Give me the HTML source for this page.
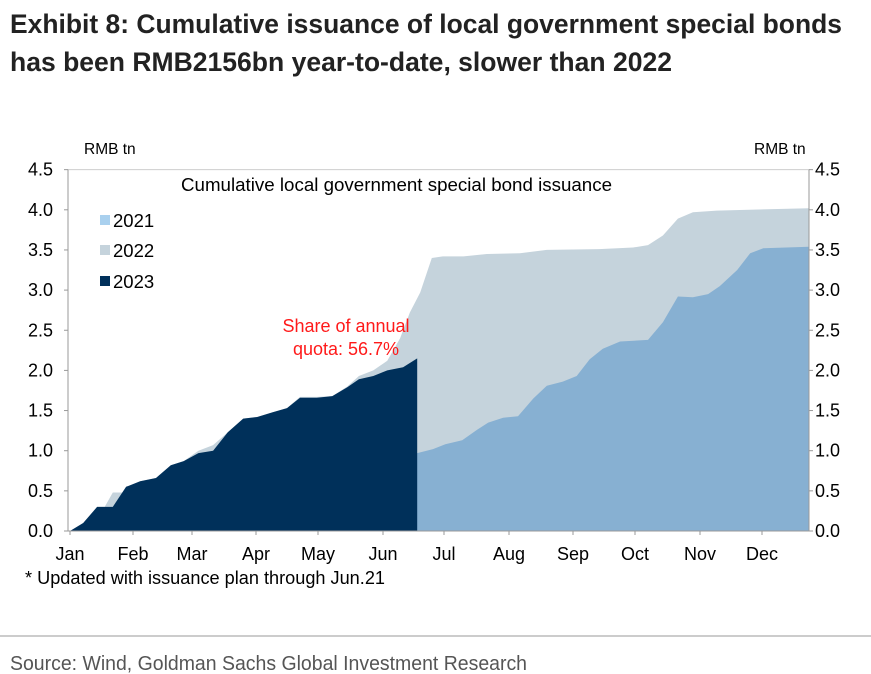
<!DOCTYPE html>
<html><head><meta charset="utf-8"><style>
html,body{margin:0;padding:0;background:#fff;}
svg{display:block;font-family:"Liberation Sans",Arial,sans-serif;}
</style></head><body>
<svg id="c" width="871" height="674" viewBox="0 0 871 674">
<text x="10" y="33" font-size="27" font-weight="bold" fill="#222" textLength="832" lengthAdjust="spacingAndGlyphs">Exhibit 8: Cumulative issuance of local government special bonds</text>
<text x="10" y="71" font-size="27" font-weight="bold" fill="#222" textLength="662" lengthAdjust="spacingAndGlyphs">has been RMB2156bn year-to-date, slower than 2022</text>
<g id="plot"></g>
<text x="84" y="154" font-size="15.5" fill="#000">RMB tn</text>
<text x="754" y="154" font-size="15.5" fill="#000">RMB tn</text>
<text x="181" y="191" font-size="18" fill="#000" textLength="431" lengthAdjust="spacingAndGlyphs">Cumulative local government special bond issuance</text>
<rect x="100" y="215" width="10" height="10" fill="#A9D0EE"/>
<text x="113" y="227" font-size="18.5">2021</text>
<rect x="100" y="245" width="10" height="10" fill="#C5D3DC"/>
<text x="113" y="257" font-size="18.5">2022</text>
<rect x="100" y="276" width="10" height="10" fill="#00305A"/>
<text x="113" y="288" font-size="18.5">2023</text>
<text x="346" y="332" font-size="18" fill="#FF1A1A" text-anchor="middle">Share of annual</text>
<text x="346" y="355" font-size="18" fill="#FF1A1A" text-anchor="middle">quota: 56.7%</text>
<text x="25" y="584" font-size="18" fill="#000" textLength="360" lengthAdjust="spacingAndGlyphs">* Updated with issuance plan through Jun.21</text>
<line x1="0" y1="636" x2="871" y2="636" stroke="#999" stroke-width="1"/>
<text x="10" y="670" font-size="20" fill="#555" textLength="517" lengthAdjust="spacingAndGlyphs">Source: Wind, Goldman Sachs Global Investment Research</text>
</svg>
<script>
const months=["Jan","Feb","Mar","Apr","May","Jun","Jul","Aug","Sep","Oct","Nov","Dec"];
const yTicks=[0,0.5,1,1.5,2,2.5,3,3.5,4,4.5];
const t2022=[0,0.21,0.43,0.55,0.68,0.85,1.12,1.39,1.64,1.86,2.1,2.33,2.56,2.8,3.02,3.27,3.5,3.71,3.98,4.22,4.45,4.63,4.85,5.07,5.28,5.44,5.61,5.8,5.98,6.3,6.66,7.17,7.59,8.42,8.97,9.2,9.43,9.66,9.89,10.27,11.76];
const v2022=[0,0.1,0.3,0.3,0.48,0.48,0.62,0.66,0.82,0.87,1.0,1.07,1.23,1.4,1.42,1.48,1.53,1.67,1.67,1.68,1.8,1.93,2.0,2.12,2.4,2.72,2.97,3.4,3.42,3.42,3.45,3.46,3.5,3.51,3.53,3.56,3.68,3.89,3.97,3.99,4.02];
const t2021=[0,2,4,5.2,5.56,5.82,6.02,6.28,6.51,6.68,6.91,7.14,7.38,7.59,7.84,8.06,8.27,8.48,8.76,9.2,9.43,9.66,9.89,10.13,10.32,10.6,10.81,11.02,11.76];
const v2021=[0,0.2,0.5,0.9,0.97,1.02,1.08,1.13,1.26,1.35,1.41,1.43,1.65,1.81,1.86,1.93,2.14,2.27,2.36,2.38,2.6,2.92,2.91,2.95,3.05,3.25,3.46,3.52,3.54];
const t2023=[0,0.21,0.43,0.68,0.89,1.12,1.39,1.64,1.86,2.1,2.33,2.56,2.8,3.02,3.27,3.5,3.71,3.98,4.22,4.45,4.63,4.85,5.07,5.33,5.56];
const v2023=[0,0.1,0.3,0.3,0.55,0.62,0.66,0.82,0.87,0.97,1.0,1.23,1.4,1.42,1.48,1.53,1.66,1.66,1.68,1.79,1.89,1.93,2.0,2.04,2.15];

const NS="http://www.w3.org/2000/svg";
const g=document.getElementById('plot');
const tickPx=[70,133,192,256,318,383,444,509,573,635,700,762,824];
const X0=68,X1=809,Y0=531,PPU=80.3;
function xs(m){const i=Math.min(Math.floor(m),11);return tickPx[i]+(m-i)*(tickPx[i+1]-tickPx[i]);}
function ys(v){return Y0-v*PPU;}
function mk(tag,attrs){const e=document.createElementNS(NS,tag);for(const k in attrs)e.setAttribute(k,attrs[k]);g.appendChild(e);return e;}
function area(ts,vs,fill,name){
  let d='M'+xs(ts[0])+','+Y0;
  for(let i=0;i<ts.length;i++)d+=' L'+xs(ts[i]).toFixed(1)+','+ys(vs[i]).toFixed(1);
  d+=' L'+xs(ts[ts.length-1]).toFixed(1)+','+Y0+' Z';
  const p=mk('path',{d:d,fill:fill});
  
  
}
const fr=mk('rect',{x:X0,y:ys(4.5),width:X1-X0,height:Y0-ys(4.5),fill:'none',stroke:'#ccc','stroke-width':1});


area(t2022,v2022,'#C5D3DC','area-2022');
area(t2021,v2021,'#87B0D2','area-2021');
area(t2023,v2023,'#00305A','area-2023');
const la=mk('line',{x1:X0,y1:ys(4.5),x2:X0,y2:Y0,stroke:'#999'});


const ra=mk('line',{x1:X1,y1:ys(4.5),x2:X1,y2:Y0,stroke:'#999'});


const xa=mk('line',{x1:X0,y1:Y0,x2:X1,y2:Y0,stroke:'#999'});


yTicks.forEach(v=>{
  const y=ys(v);
  mk('line',{x1:X0-4,y1:y,x2:X0,y2:y,stroke:'#999'});
  mk('line',{x1:X1,y1:y,x2:X1+4,y2:y,stroke:'#999'});
  const a=mk('text',{x:53,y:y+6,'font-size':18,'text-anchor':'end'});a.textContent=v.toFixed(1);
  
  
  const b=mk('text',{x:815,y:y+6,'font-size':18});b.textContent=v.toFixed(1);
  
  
});
months.forEach((m,i)=>{
  const x=xs(i);
  mk('line',{x1:x,y1:Y0,x2:x,y2:Y0+4,stroke:'#999'});
  const t=mk('text',{x:x,y:560,'font-size':18,'text-anchor':'middle'});t.textContent=m;
  
  
});
</script>
</body></html>
